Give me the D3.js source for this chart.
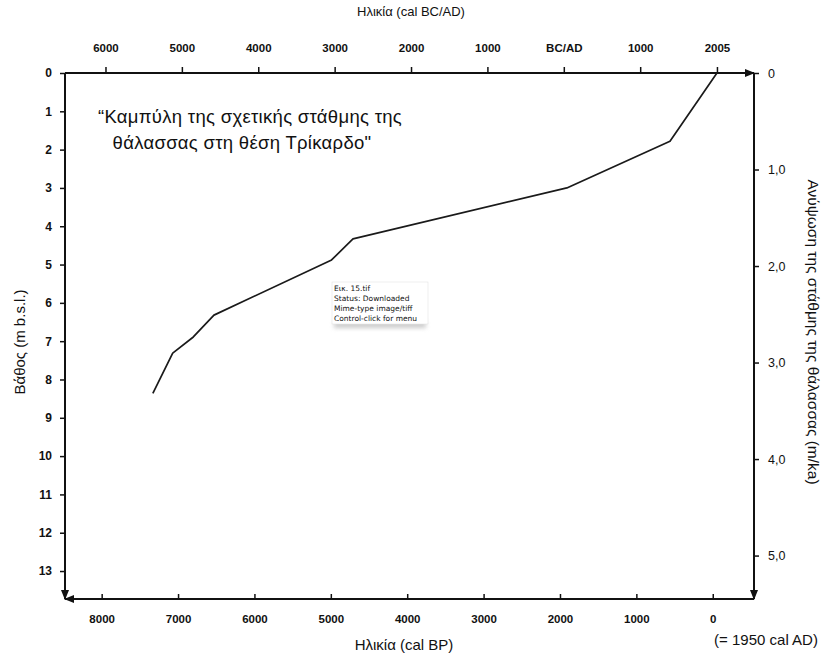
<!DOCTYPE html>
<html>
<head>
<meta charset="utf-8">
<script src="https://cdn.jsdelivr.net/npm/d3@7"></script>
<style>
  body { margin: 0; background: #fff; }
  text { font-family: "Liberation Sans", Arial, sans-serif; fill: #111; }
  .tick text { font-weight: bold; }
</style>
</head>
<body>
<div id="chart"></div>
<script>
// data
var ageBP = [7330, 7070, 6800, 6530, 4990, 4710, 1910, 560, -55];
var depth = [8.36, 7.31, 6.89, 6.32, 4.88, 4.33, 3.00, 1.78, 0];

var bpTicks = [8000, 7000, 6000, 5000, 4000, 3000, 2000, 1000, 0];
var adTicks = [-6000, -5000, -4000, -3000, -2000, -1000, 0, 1000, 2005];
var adLabels = ["6000", "5000", "4000", "3000", "2000", "1000", "BC/AD", "1000", "2005"];
var depthTicks = [0, 1, 2, 3, 4, 5, 6, 7, 8, 9, 10, 11, 12, 13];
var rateTicks = [0, 1, 2, 3, 4, 5];
var rateLabels = ["0", "1,0", "2,0", "3,0", "4,0", "5,0"];
var popupLines = ["Εικ. 15.tif", "Status: Downloaded", "Mime-type image/tiff", "Control-click for menu"];

//Set Margins
var svgWidth = 829;
var svgHeight = 659;
var margin = { top: 73, right: 75, bottom: 60, left: 65 };
var width = svgWidth - margin.left - margin.right;
var height = svgHeight - margin.top - margin.bottom;

var svg = d3.select("#chart")
    .append("svg")
    .attr("width", svgWidth)
    .attr("height", svgHeight);

var defs = svg.append("defs");
defs.append("marker")
    .attr("id", "arrow")
    .attr("viewBox", "0 0 10 10")
    .attr("refX", 9).attr("refY", 5)
    .attr("markerWidth", 10).attr("markerHeight", 10)
    .attr("markerUnits", "userSpaceOnUse")
    .attr("orient", "auto")
    .append("path")
    .attr("d", "M0,1 L10,5 L0,9 Z")
    .attr("fill", "#111");

var chartGroup = svg.append("g")
    .attr("transform", `translate(${margin.left}, ${margin.top})`);

//scales
var xScale = d3.scaleLinear().domain([8480, -540]).range([0, width]);
var adScale = d3.scaleLinear().domain([1950 - 8480, 1950 + 540]).range([0, width]);
var yScale = d3.scaleLinear().domain([0, 13.73]).range([0, height]);
var rateScale = d3.scaleLinear().domain([0, 5.45]).range([0, height]);

//axes
var bottomAxis = d3.axisBottom(xScale).tickValues(bpTicks)
    .tickSizeInner(-5).tickSizeOuter(0).tickPadding(16)
    .tickFormat(d3.format("d"));
var topAxis = d3.axisTop(adScale).tickValues(adTicks)
    .tickSizeInner(6).tickSizeOuter(0).tickPadding(15)
    .tickFormat((d, i) => adLabels[i]);
var leftAxis = d3.axisLeft(yScale).tickValues(depthTicks)
    .tickSizeInner(5).tickSizeOuter(0).tickPadding(8)
    .tickFormat(d3.format("d"));
var rightAxis = d3.axisRight(rateScale).tickValues(rateTicks)
    .tickSizeInner(5).tickSizeOuter(0).tickPadding(9)
    .tickFormat((d, i) => rateLabels[i]);

var xAxisG = chartGroup.append("g")
    .attr("transform", `translate(0, ${height})`)
    .call(bottomAxis);
var topAxisG = chartGroup.append("g").call(topAxis);
var yAxisG = chartGroup.append("g").call(leftAxis);
var rAxisG = chartGroup.append("g")
    .attr("transform", `translate(${width}, 0)`)
    .call(rightAxis);

chartGroup.selectAll(".domain").remove();
chartGroup.selectAll(".tick line").attr("stroke", "#111").attr("stroke-width", 1.5);
chartGroup.selectAll(".tick text").attr("fill", "#111");
xAxisG.selectAll("text").attr("font-size", 11.5);
topAxisG.selectAll("text").attr("font-size", 11.5)
    .style("font-family", "'Liberation Sans Narrow', 'Liberation Sans', Arial, sans-serif");
yAxisG.selectAll("text").attr("font-size", 12);
rAxisG.selectAll("text").attr("font-size", 12.5).style("font-weight", "normal");

//frame lines with arrows
var frame = chartGroup.append("g")
    .attr("stroke", "#111").attr("stroke-width", 2).attr("fill", "none");
frame.append("line").attr("x1", 0).attr("y1", 0).attr("x2", width).attr("y2", 0)
    .attr("marker-end", "url(#arrow)");
frame.append("line").attr("x1", width).attr("y1", 0).attr("x2", width).attr("y2", height)
    .attr("marker-end", "url(#arrow)");
frame.append("line").attr("x1", width).attr("y1", height).attr("x2", 0).attr("y2", height)
    .attr("marker-end", "url(#arrow)");
frame.append("line").attr("x1", 0).attr("y1", 0).attr("x2", 0).attr("y2", height)
    .attr("marker-end", "url(#arrow)");

//curve
var line = d3.line()
    .x((d, i) => xScale(ageBP[i]))
    .y((d, i) => yScale(depth[i]));
chartGroup.append("path")
    .datum(ageBP)
    .attr("d", line)
    .attr("fill", "none")
    .attr("stroke", "#1a1a1a")
    .attr("stroke-width", 1.7)
    .attr("stroke-linejoin", "round");

//inner title
chartGroup.append("text")
    .attr("x", 185).attr("y", 50)
    .attr("text-anchor", "middle")
    .attr("font-size", 18.5)
    .attr("letter-spacing", 0.3)
    .text("“Καμπύλη της σχετικής στάθμης της");
chartGroup.append("text")
    .attr("x", 177).attr("y", 76)
    .attr("text-anchor", "middle")
    .attr("font-size", 18.5)
    .attr("letter-spacing", 0.3)
    .text("θάλασσας στη θέση Τρίκαρδο\"");

//file info popup
var popup = chartGroup.append("g").attr("transform", "translate(267, 209)");
popup.append("rect")
    .attr("x", 2).attr("y", 40).attr("width", 92).attr("height", 6)
    .attr("fill", "#999").attr("opacity", 0.5)
    .style("filter", "blur(2px)");
popup.append("rect")
    .attr("x", 0).attr("y", 0).attr("width", 96).attr("height", 42)
    .attr("fill", "#fff").attr("stroke", "#ddd").attr("stroke-width", 0.5);
popup.selectAll("text.pop")
    .data(popupLines)
    .enter()
    .append("text")
    .attr("class", "pop")
    .attr("x", 2)
    .attr("y", (d, i) => 9 + i * 10)
    .attr("font-size", 7.5)
    .style("font-family", "'DejaVu Sans', sans-serif")
    .text(d => d);

//axis labels
svg.append("text")
    .attr("x", 411).attr("y", 16)
    .attr("text-anchor", "middle")
    .attr("font-size", 13)
    .text("Ηλικία (cal BC/AD)");

svg.append("text")
    .attr("x", 404).attr("y", 650)
    .attr("text-anchor", "middle")
    .attr("font-size", 15)
    .text("Ηλικία (cal BP)");

svg.append("text")
    .attr("x", 766).attr("y", 645)
    .attr("text-anchor", "middle")
    .attr("font-size", 15)
    .text("(= 1950 cal AD)");

svg.append("text")
    .attr("transform", "translate(25, 342) rotate(-90)")
    .attr("text-anchor", "middle")
    .attr("font-size", 15)
    .text("Βάθος (m b.s.l.)");

svg.append("text")
    .attr("transform", "translate(808, 332) rotate(90)")
    .attr("text-anchor", "middle")
    .attr("font-size", 15.5)
    .text("Ανύψωση της στάθμης της θάλασσας (m/ka)");
</script>
</body>
</html>
